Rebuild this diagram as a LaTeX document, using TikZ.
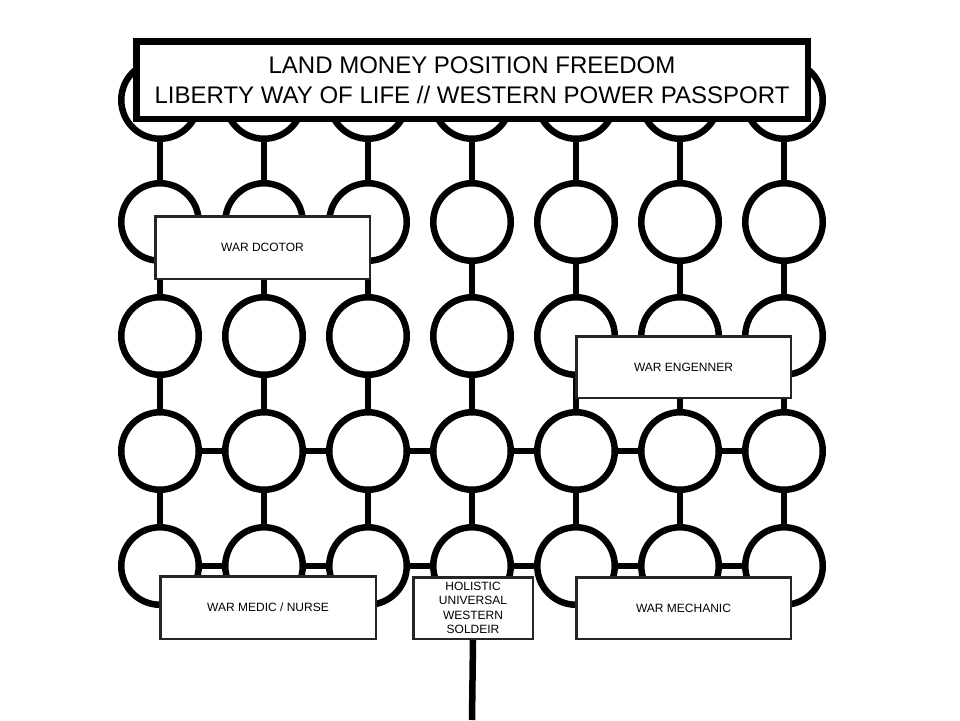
\documentclass[tikz,border=0pt]{standalone}
\usepackage{fontspec}
\setmainfont{Liberation Sans}
\begin{document}
\begin{tikzpicture}[x=1pt,y=-1pt,
  ring/.style={circle,draw=black,fill=white,line width=6.5pt,minimum size=77.5pt,inner sep=0pt},
  link/.style={line width=6.5pt,black},
  labelbox/.style={rectangle,draw=black!85,fill=white,line width=2.5pt,inner sep=0pt,
    font=\fontsize{12}{14.3}\selectfont,align=center},
  titlebox/.style={rectangle,draw=black,fill=white,line width=6.5pt,inner sep=0pt,
    minimum width=671.5pt,minimum height=77.5pt,font=\fontsize{24}{30}\selectfont,align=center}]
\useasboundingbox[fill=white] (0,0) rectangle (960,720);
% circles
\foreach \r/\y in {1/100,2/222,3/336,4/451,5/566}{
  \foreach \c/\x in {1/160,2/264,3/368,4/472,5/576,6/680,7/784}{
    \node[ring] (c-\r-\c) at (\x,\y) {};
  }
}
% connectors
\begin{scope}[on background layer/.try]
\end{scope}
\foreach \c in {1,...,7}{
  \foreach \r [evaluate=\r as \rn using int(\r+1)] in {1,...,4}{
    \draw[link] (c-\r-\c) -- (c-\rn-\c);
  }
}
\foreach \r in {4,5}{
  \foreach \c [evaluate=\c as \cn using int(\c+1)] in {1,...,6}{
    \draw[link] (c-\r-\c) -- (c-\r-\cn);
  }
}
% title
\node[titlebox] (title) at (472,80) {LAND MONEY POSITION FREEDOM\\LIBERTY WAY OF LIFE // WESTERN POWER PASSPORT};
% label boxes
\node[labelbox,minimum width=214.5pt,minimum height=62.5pt] (doctor) at (262.5,247.5) {WAR DCOTOR};
\node[labelbox,minimum width=214.5pt,minimum height=61.5pt] (engineer) at (683.5,367) {WAR ENGENNER};
\node[labelbox,minimum width=215.5pt,minimum height=62.5pt] (medic) at (268,607.5) {WAR MEDIC / NURSE};
\node[labelbox,minimum width=119.5pt,minimum height=61.5pt] (soldier) at (473,608) {HOLISTIC\\UNIVERSAL\\WESTERN\\SOLDEIR};
\node[labelbox,minimum width=214.5pt,minimum height=61.5pt] (mechanic) at (683.5,608) {WAR MECHANIC};
\coordinate (bottom) at (472,720);
\draw[link] (soldier.south) -- (bottom);
\end{tikzpicture}
\end{document}
